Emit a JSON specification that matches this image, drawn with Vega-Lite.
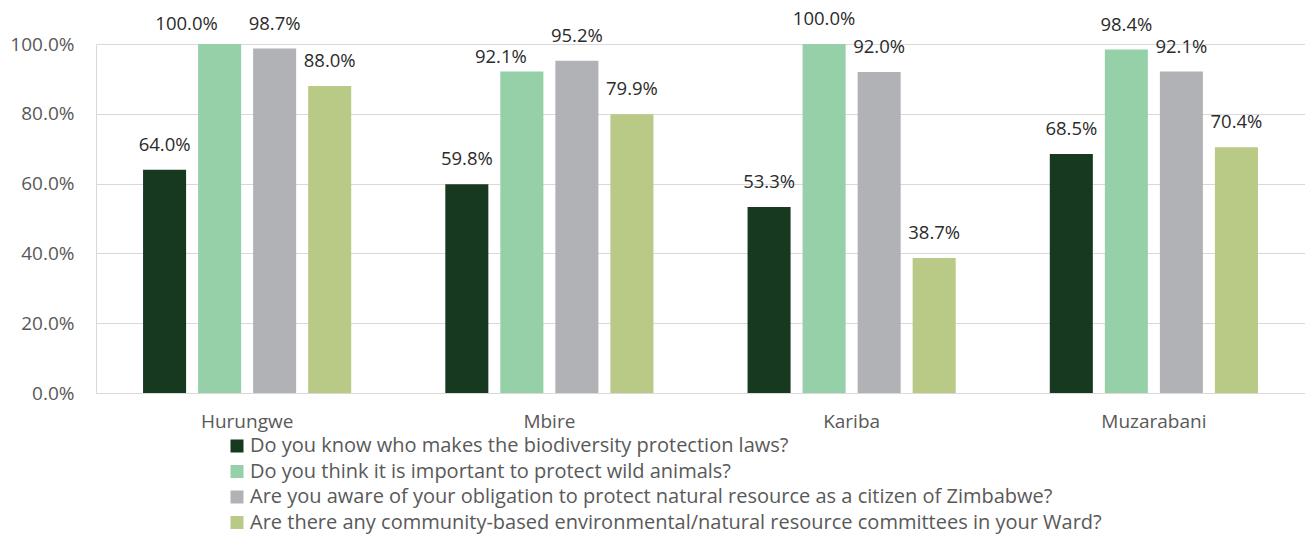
{
  "$schema": "https://vega.github.io/schema/vega-lite/v6.json",
  "width": 1209,
  "height": 349,
  "autosize": {"type": "none"},
  "padding": {"left": 96, "top": 44, "right": 0, "bottom": 142},
  "background": "white",
  "config": {
    "view": {"stroke": null},
    "font": "Open Sans",
    "axis": {"labelFont": "Open Sans", "labelFontSize": 19, "labelColor": "#595959", "ticks": false, "tickSize": 0, "title": null, "domainColor": "#d9d9d9", "gridColor": "#d9d9d9", "gridWidth": 1},
    "legend": {"labelFont": "Open Sans", "labelFontSize": 20, "labelColor": "#595959"}
  },
  "data": {
    "values": [
      {"district": "Hurungwe", "question": "Do you know who makes the biodiversity protection laws?", "value": 0.640},
      {"district": "Hurungwe", "question": "Do you think it is important to protect wild animals?", "value": 1.000},
      {"district": "Hurungwe", "question": "Are you aware of your obligation to protect natural resource as a citizen of Zimbabwe?", "value": 0.987},
      {"district": "Hurungwe", "question": "Are there any community-based environmental/natural resource committees in your Ward?", "value": 0.880},
      {"district": "Mbire", "question": "Do you know who makes the biodiversity protection laws?", "value": 0.598},
      {"district": "Mbire", "question": "Do you think it is important to protect wild animals?", "value": 0.921},
      {"district": "Mbire", "question": "Are you aware of your obligation to protect natural resource as a citizen of Zimbabwe?", "value": 0.952},
      {"district": "Mbire", "question": "Are there any community-based environmental/natural resource committees in your Ward?", "value": 0.799},
      {"district": "Kariba", "question": "Do you know who makes the biodiversity protection laws?", "value": 0.533},
      {"district": "Kariba", "question": "Do you think it is important to protect wild animals?", "value": 1.000},
      {"district": "Kariba", "question": "Are you aware of your obligation to protect natural resource as a citizen of Zimbabwe?", "value": 0.920},
      {"district": "Kariba", "question": "Are there any community-based environmental/natural resource committees in your Ward?", "value": 0.387},
      {"district": "Muzarabani", "question": "Do you know who makes the biodiversity protection laws?", "value": 0.685},
      {"district": "Muzarabani", "question": "Do you think it is important to protect wild animals?", "value": 0.984},
      {"district": "Muzarabani", "question": "Are you aware of your obligation to protect natural resource as a citizen of Zimbabwe?", "value": 0.921},
      {"district": "Muzarabani", "question": "Are there any community-based environmental/natural resource committees in your Ward?", "value": 0.704}
    ]
  },
  "encoding": {
    "x": {
      "field": "district", "type": "nominal",
      "sort": ["Hurungwe", "Mbire", "Kariba", "Muzarabani"],
      "scale": {"paddingInner": 0, "paddingOuter": 0},
      "axis": {"labelAngle": 0, "labelPadding": 19, "labelBaseline": "top", "domain": true, "grid": false}
    },
    "xOffset": {
      "field": "question", "type": "nominal",
      "scale": {
        "domain": [
          "Do you know who makes the biodiversity protection laws?",
          "Do you think it is important to protect wild animals?",
          "Are you aware of your obligation to protect natural resource as a citizen of Zimbabwe?",
          "Are there any community-based environmental/natural resource committees in your Ward?"
        ],
        "paddingInner": 0.218, "paddingOuter": 0.855
      }
    },
    "y": {
      "field": "value", "type": "quantitative",
      "scale": {"domain": [0, 1], "nice": false},
      "axis": {"format": ".1%", "values": [0, 0.2, 0.4, 0.6, 0.8, 1.0], "labelPadding": 22, "grid": true, "domain": true}
    }
  },
  "layer": [
    {
      "mark": {"type": "bar"},
      "encoding": {
        "color": {
          "field": "question", "type": "nominal",
          "scale": {
            "domain": [
              "Do you know who makes the biodiversity protection laws?",
              "Do you think it is important to protect wild animals?",
              "Are you aware of your obligation to protect natural resource as a citizen of Zimbabwe?",
              "Are there any community-based environmental/natural resource committees in your Ward?"
            ],
            "range": ["#17391f", "#95d0a8", "#b1b2b6", "#b8ca86"]
          },
          "legend": {
            "title": null, "orient": "none", "legendX": 131, "legendY": 392,
            "direction": "vertical", "symbolType": "square", "symbolSize": 169,
            "symbolStrokeWidth": 0, "labelOffset": 3, "rowPadding": 5.5, "labelLimit": 1000
          }
        }
      }
    },
    {
      "transform": [{"filter": "!((datum.district == 'Hurungwe' || datum.district == 'Mbire') && datum.question == 'Do you think it is important to protect wild animals?')"}],
      "mark": {"type": "text", "baseline": "alphabetic", "dy": -19, "fontSize": 18.5, "color": "#2b2b2b"},
      "encoding": {"text": {"field": "value", "type": "quantitative", "format": ".1%"}}
    },
    {
      "transform": [{"filter": "datum.district == 'Hurungwe' && datum.question == 'Do you think it is important to protect wild animals?'"}],
      "mark": {"type": "text", "baseline": "alphabetic", "dy": -14, "dx": -33, "fontSize": 18.5, "color": "#2b2b2b"},
      "encoding": {"text": {"field": "value", "type": "quantitative", "format": ".1%"}}
    },
    {
      "transform": [{"filter": "datum.district == 'Mbire' && datum.question == 'Do you think it is important to protect wild animals?'"}],
      "mark": {"type": "text", "baseline": "alphabetic", "dy": -9, "dx": -21, "fontSize": 18.5, "color": "#2b2b2b"},
      "encoding": {"text": {"field": "value", "type": "quantitative", "format": ".1%"}}
    }
  ]
}
